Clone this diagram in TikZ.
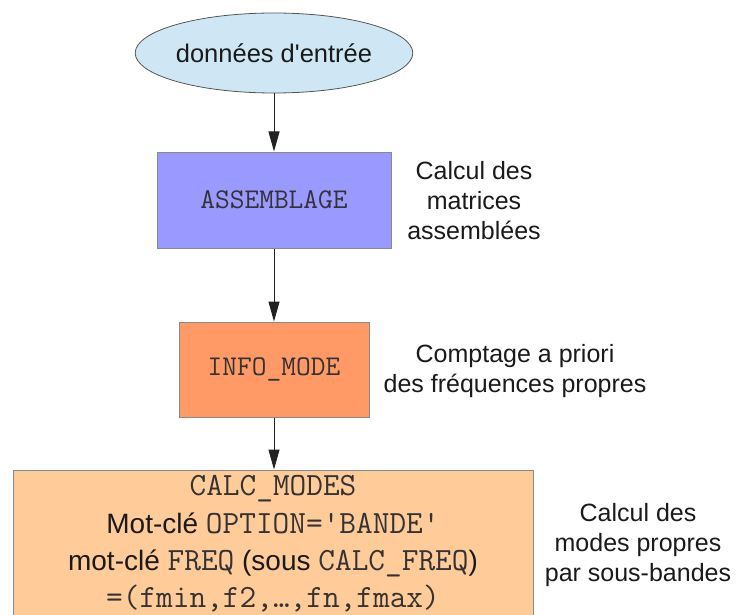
\documentclass[tikz,border=0pt]{standalone}
\usepackage{fontspec}
\setmainfont{Liberation Sans}
\usetikzlibrary{arrows.meta,shapes.geometric}
\definecolor{ellfill}{HTML}{CFE7F5}
\definecolor{ellborder}{HTML}{555555}
\definecolor{boxborder}{HTML}{8A8A8A}
\definecolor{asmfill}{HTML}{9999FF}
\definecolor{infofill}{HTML}{FF9966}
\definecolor{calcfill}{HTML}{FFCC99}
\definecolor{textcol}{HTML}{1A1A1A}
\definecolor{codecol}{HTML}{333333}
\definecolor{arrowcol}{HTML}{222222}
\newcommand\smallmono[1]{{\fontsize{28.6}{30}\selectfont\ttfamily\color{codecol}#1}}
\newcommand\bigmono[1]{{\fontsize{32.4}{37.3}\selectfont\ttfamily\color{codecol}#1}}
\begin{document}
\begin{tikzpicture}[x=1pt,y=-1pt,
  box/.style={draw=boxborder, line width=1pt, rectangle, inner sep=0pt, align=center, text=textcol},
  flow/.style={draw=arrowcol, line width=1pt, -{Triangle[length=20pt,width=11pt]}},
  note/.style={align=center, font=\fontsize{25}{30}\selectfont, text=textcol, inner sep=0pt}
]
\useasboundingbox (0,0) rectangle (736,615);
\node[ellipse, draw=ellborder, line width=0.8pt, fill=ellfill, minimum width=224pt, minimum height=80pt, inner sep=0pt, text=textcol, font=\fontsize{25.5}{30}\selectfont] (in) at (274,53) {données d\textquotesingle entrée};
\node[box, fill=asmfill, minimum width=234pt, minimum height=96pt] (asm) at (274,200) {\smallmono{ASSEMBLAGE}};
\node[box, fill=infofill, minimum width=190pt, minimum height=95pt] (info) at (274,369.5) {\smallmono{INFO\_MODE}};
\node[box, fill=calcfill, minimum width=520pt, minimum height=148pt, font=\fontsize{28}{37.3}\selectfont] (calc) at (273,544)
  {\bigmono{CALC\_MODES}\\
   Mot-clé \bigmono{OPTION=\textquotesingle BANDE\textquotesingle}\\
   mot-clé \bigmono{FREQ} (sous \bigmono{CALC\_FREQ})\\
   \bigmono{=(fmin,f2,…,fn,fmax)}};
\node[note] (n1) at (474,201) {Calcul des\\matrices\\assemblées};
\node[note] (n2) at (515,371.5) {Comptage a priori\\des fréquences propres};
\node[note] (n3) at (638,545.5) {Calcul des\\modes propres\\par sous-bandes};
\draw[flow] (in) -- (asm);
\draw[flow] (asm) -- (info);
\draw[flow] (info.south) -- (info.south |- calc.north);
\end{tikzpicture}
\end{document}
